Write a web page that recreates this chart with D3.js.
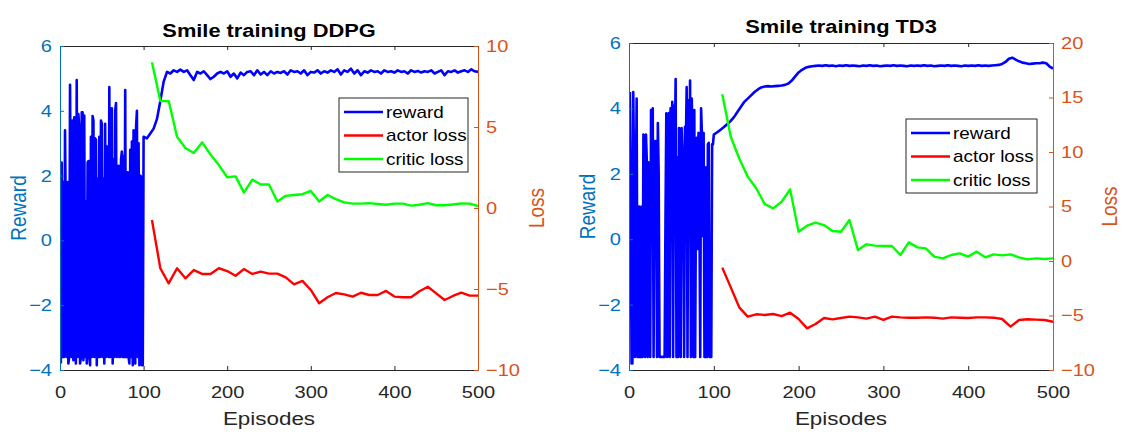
<!DOCTYPE html>
<html>
<head>
<meta charset="utf-8">
<script src="https://cdn.jsdelivr.net/npm/d3@7"></script>
<style>
body { margin: 0; background: #fff; }
svg { display: block; }
text { font-family: "Liberation Sans", Arial, sans-serif; }
</style>
</head>
<body>
<svg id="chart"></svg>
<script>
var width = 1123;
var height = 432;
var sx = 1.18; // the source figure is a bit stretched sideways

// ticks
var xTicks = [0, 100, 200, 300, 400, 500];
var rewardTicks = [-4, -2, 0, 2, 4, 6];
var lossTicksDDPG = [-10, -5, 0, 5, 10];
var lossTicksTD3 = [-10, -5, 0, 5, 10, 15, 20];
var seriesNames = ["reward", "actor loss", "critic loss"];
var seriesColors = ["#0000ff", "#ff0000", "#00ff00"];

// episodes: reward every episode 1..100, then every 4th episode 104..500; losses every 10th 110..500
var earlyEpisodes = d3.range(1, 101);
var lateEpisodes = d3.range(104, 501, 4);
var lossEpisodes = d3.range(110, 501, 10);

// DDPG
var ddpgRewardEarly = [
    -3.8, 2.4, -3.6, 1.8, -3.6, 3.4, 0.5, -3.6, 1.8, -3.8,
    -3.6, 4.8, 0.5, -3.6, 3.7, -3.7, 3.8, 0.8, -3.8, 4.95,
    -3.6, 3.9, 3.5, -3.8, -3.6, 3.95, 3.95, -3.7, 3.85, -3.6,
    1.2, -3.8, 2.4, 2.45, -3.6, -3.85, 3.2, -3.6, 3.84, 3.7,
    -3.6, 3.15, 3.1, -3.85, 1.9, -3.6, 3.2, -3.6, 3.7, 3.6,
    -3.6, 1.9, -3.8, 3.6, -3.6, 2.9, 2.0, -3.6, 4.73, -3.6,
    2.0, 4.08, -3.8, 2.5, -3.6, 4.0, 4.24, -3.6, 1.5, 2.3,
    -3.6, -3.6, 2.49, 2.74, -3.6, 2.6, -3.6, 4.64, -3.6, -3.6,
    2.1, -3.6, -3.8, 2.8, -3.6, 3.05, -3.85, 3.4, 3.3, -3.8,
    3.5, 4.0, -3.6, 3.0, -3.85, 2.0, 1.97, -3.85, -3.85, 3.2
];
var ddpgRewardLate = [
    3.15, 3.3, 3.45, 3.75, 4.3, 4.9, 5.2, 5.15, 5.25, 5.2,
    5.27, 5.2, 5.25, 5.1, 4.95, 5.2, 5.15, 5.22, 5.1, 4.98,
    5.05, 5.15, 5.2, 5.15, 5.22, 5.05, 5.15, 5.0, 5.18, 5.1,
    5.2, 5.22, 5.1, 5.25, 5.12, 5.2, 5.1, 5.22, 5.15, 5.2,
    5.17, 5.22, 5.12, 5.25, 5.2, 5.22, 5.15, 5.25, 5.1, 5.2,
    5.18, 5.25, 5.15, 5.22, 5.18, 5.25, 5.2, 5.28, 5.12, 5.25,
    5.2, 5.3, 5.15, 5.25, 5.1, 5.22, 5.18, 5.25, 5.2, 5.22,
    5.15, 5.25, 5.2, 5.22, 5.18, 5.25, 5.2, 5.22, 5.15, 5.25,
    5.2, 5.23, 5.18, 5.22, 5.2, 5.25, 5.15, 5.2, 5.25, 5.1,
    5.22, 5.2, 5.25, 5.18, 5.22, 5.25, 5.2, 5.28, 5.22, 5.2
];
var ddpgActor = [
    -0.74, -3.72, -4.65, -3.72, -4.34, -3.83, -4.07, -4.07, -3.72, -3.89,
    -4.18, -3.77, -4.07, -3.93, -4.05, -4.05, -4.28, -4.71, -4.5, -5.06,
    -5.88, -5.51, -5.25, -5.33, -5.47, -5.23, -5.37, -5.37, -5.12, -5.47,
    -5.51, -5.51, -5.14, -4.86, -5.27, -5.68, -5.43, -5.23, -5.41, -5.41
];
var ddpgCritic = [
    9.0, 6.6, 6.6, 4.4, 3.7, 3.4, 4.05, 3.3, 2.65, 1.9,
    1.95, 0.95, 1.75, 1.45, 1.45, 0.4, 0.75, 0.8, 0.85, 1.05,
    0.4, 0.8, 0.55, 0.35, 0.27, 0.27, 0.3, 0.25, 0.2, 0.27,
    0.27, 0.15, 0.2, 0.3, 0.17, 0.17, 0.22, 0.28, 0.27, 0.12
];

// TD3
var td3RewardEarly = [
    4.5, 1.9, -3.8, -3.8, 4.5, 2.0, -3.6, 1.2, 4.3, -3.6,
    -3.6, 1.0, -3.6, -3.6, 1.0, -3.6, 3.2, 3.15, -3.6, 3.2,
    2.4, -3.6, 2.35, 2.3, -3.6, 3.95, 1.3, 4.0, -3.6, 3.0,
    0.2, 3.0, -3.6, 3.55, 2.0, -3.6, -3.6, -3.6, -3.6, -3.6,
    -3.6, -3.6, 0.5, 3.85, -3.6, 2.9, 3.86, -3.6, 4.0, 2.5,
    4.2, -3.6, 4.08, 2.6, 4.9, -3.6, 2.5, -3.6, 3.4, 2.4,
    -3.6, 3.4, 2.68, 2.6, -3.6, 3.44, 2.8, 4.65, -3.6, 4.25,
    1.2, 4.85, -3.6, 4.3, 2.7, -3.6, 3.95, -3.6, 1.5, 3.1,
    -0.3, 3.25, 1.0, -3.6, 4.0, 3.2, 0.1, 3.25, -3.6, 2.2,
    -3.6, -3.6, 2.9, 2.95, -3.6, -3.6, -3.6, 2.9, 2.9, 3.2
];
var td3RewardLate = [
    3.27, 3.35, 3.43, 3.52, 3.62, 3.74, 3.9, 4.05, 4.2, 4.3,
    4.4, 4.5, 4.58, 4.64, 4.67, 4.68, 4.67, 4.68, 4.69, 4.7,
    4.72, 4.76, 4.85, 4.98, 5.1, 5.18, 5.24, 5.27, 5.29, 5.3,
    5.31, 5.3, 5.32, 5.3, 5.31, 5.29, 5.31, 5.3, 5.32, 5.3,
    5.31, 5.3, 5.29, 5.31, 5.3, 5.32, 5.3, 5.31, 5.29, 5.3,
    5.31, 5.3, 5.32, 5.3, 5.31, 5.3, 5.29, 5.31, 5.3, 5.31,
    5.3, 5.32, 5.3, 5.31, 5.29, 5.3, 5.31, 5.3, 5.32, 5.3,
    5.31, 5.3, 5.29, 5.31, 5.3, 5.31, 5.3, 5.32, 5.3, 5.31,
    5.3, 5.31, 5.32, 5.33, 5.36, 5.42, 5.52, 5.55, 5.49, 5.44,
    5.4, 5.38, 5.36, 5.37, 5.38, 5.38, 5.4, 5.38, 5.28, 5.22
];
var td3Actor = [
    -0.61, -2.42, -4.25, -5.1, -4.89, -4.95, -4.86, -5.05, -4.74, -5.32,
    -6.18, -5.78, -5.23, -5.35, -5.23, -5.1, -5.17, -5.29, -5.1, -5.41,
    -5.1, -5.17, -5.2, -5.2, -5.17, -5.2, -5.29, -5.17, -5.2, -5.23,
    -5.17, -5.17, -5.2, -5.32, -6.02, -5.41, -5.35, -5.38, -5.41, -5.57
];
var td3Critic = [
    15.3, 11.4, 9.4, 7.74, 6.67, 5.23, 4.83, 5.44, 6.57, 2.69,
    3.24, 3.52, 3.3, 2.75, 2.69, 3.76, 1.0, 1.53, 1.41, 1.38,
    1.38, 0.55, 1.71, 1.25, 1.16, 0.4, 0.24, 0.55, 0.7, 0.4,
    0.86, 0.34, 0.61, 0.52, 0.61, 0.34, 0.15, 0.24, 0.18, 0.24
];

var svg = d3.select("#chart")
    .attr("width", width)
    .attr("height", height)
    .attr("xmlns", "http://www.w3.org/2000/svg");

// put text at (x,y) and squeeze it sideways like the source
function stretchText(sel) {
    sel.each(function () {
        var t = d3.select(this);
        var x = +t.attr("x") || 0;
        var y = +t.attr("y") || 0;
        t.attr("x", 0).attr("y", 0)
            .attr("transform", "translate(" + x + "," + y + ") scale(" + sx + ",1)");
    });
}

function zip(xs, ys) {
    return xs.map(function (e, i) { return [e, ys[i]]; });
}

function drawPanel(p) {
    var g = svg.append("g");
    var x = d3.scaleLinear().domain([0, 500]).range([p.left, p.right]);
    var yR = d3.scaleLinear().domain([-4, 6]).range([p.bottom, p.top]);
    var yL = d3.scaleLinear().domain(p.lossDomain).range([p.bottom, p.top]);

    var clipId = "clip-" + p.id;
    g.append("clipPath").attr("id", clipId)
        .append("rect")
        .attr("x", p.left).attr("y", p.top)
        .attr("width", p.right - p.left).attr("height", p.bottom - p.top);

    var rewardData = zip(earlyEpisodes, p.rewardEarly).concat(zip(lateEpisodes, p.rewardLate));
    var lines = g.append("g").attr("clip-path", "url(#" + clipId + ")");

    lines.append("path")
        .datum(rewardData)
        .attr("fill", "none")
        .attr("stroke", seriesColors[0])
        .attr("stroke-width", 2.6)
        .attr("stroke-linejoin", "round")
        .attr("d", d3.line().x(function (d) { return x(d[0]); }).y(function (d) { return yR(d[1]); }));

    [p.actor, p.critic].forEach(function (vals, k) {
        lines.append("path")
            .datum(zip(lossEpisodes, vals))
            .attr("fill", "none")
            .attr("stroke", seriesColors[k + 1])
            .attr("stroke-width", 2.4)
            .attr("stroke-linejoin", "round")
            .attr("d", d3.line().x(function (d) { return x(d[0]); }).y(function (d) { return yL(d[1]); }));
    });

    // top edge of the box
    var top = g.append("g")
        .attr("transform", "translate(0," + p.top + ")")
        .call(d3.axisTop(x).tickValues(xTicks).tickSize(-4).tickSizeOuter(0).tickFormat(""));
    top.selectAll("path, line").attr("stroke", "#262626");

    var bottom = g.append("g")
        .attr("transform", "translate(0," + p.bottom + ")")
        .call(d3.axisBottom(x).tickValues(xTicks).tickSize(-4).tickSizeOuter(0).tickPadding(16));
    bottom.selectAll("path, line").attr("stroke", "#262626");
    bottom.selectAll("text").attr("fill", "#262626").style("font-size", "17px").call(stretchText);

    var left = g.append("g")
        .attr("transform", "translate(" + p.left + ",0)")
        .call(d3.axisLeft(yR).tickValues(rewardTicks).tickSize(-4).tickSizeOuter(0).tickPadding(8));
    left.selectAll("path, line").attr("stroke", "#0072bd");
    left.selectAll("text").attr("fill", "#0072bd").style("font-size", "17px").call(stretchText);

    var right = g.append("g")
        .attr("transform", "translate(" + p.right + ",0)")
        .call(d3.axisRight(yL).tickValues(p.lossTicks).tickSize(-4).tickSizeOuter(0).tickPadding(8));
    right.selectAll("path, line").attr("stroke", "#d95319");
    right.selectAll("text").attr("fill", "#d95319").style("font-size", "17px").call(stretchText);

    g.selectAll(".domain").attr("stroke-width", 1);

    // title and axis labels
    g.append("text")
        .attr("transform", "translate(" + (p.left + p.right) / 2 + "," + p.titleY + ") scale(" + sx + ",1)")
        .attr("text-anchor", "middle")
        .style("font-size", "18.5px")
        .style("font-weight", "bold")
        .attr("fill", "#000")
        .text(p.title);

    g.append("text")
        .attr("transform", "translate(" + (p.left + p.right) / 2 + ",425) scale(" + sx + ",1)")
        .attr("text-anchor", "middle")
        .style("font-size", "19px")
        .attr("fill", "#262626")
        .text("Episodes");

    g.append("text")
        .attr("transform", "translate(" + p.rewardLabelX + "," + (p.top + p.bottom) / 2 + ") scale(" + sx + ",1) rotate(-90)")
        .attr("text-anchor", "middle")
        .attr("dy", "0.35em")
        .style("font-size", "19px")
        .attr("fill", "#0072bd")
        .text("Reward");

    g.append("text")
        .attr("transform", "translate(" + p.lossLabelX + "," + (p.top + p.bottom) / 2 + ") scale(" + sx + ",1) rotate(-90)")
        .attr("text-anchor", "middle")
        .attr("dy", "0.35em")
        .style("font-size", "19px")
        .attr("fill", "#d95319")
        .text("Loss");

    // legend
    var lg = g.append("g").attr("transform", "translate(" + p.legendX + "," + p.legendY + ")");
    lg.append("rect")
        .attr("width", p.legendW).attr("height", 74)
        .attr("fill", "#fff")
        .attr("stroke", "#262626")
        .attr("stroke-width", 1);
    seriesNames.forEach(function (name, i) {
        var yy = 14 + i * 23.5;
        lg.append("line")
            .attr("x1", 5).attr("x2", 44)
            .attr("y1", yy).attr("y2", yy)
            .attr("stroke", seriesColors[i])
            .attr("stroke-width", 2.4);
        lg.append("text")
            .attr("transform", "translate(47," + yy + ") scale(" + sx + ",1)")
            .attr("dy", "0.35em")
            .style("font-size", "16px")
            .attr("fill", "#000")
            .text(name);
    });
}

drawPanel({
    id: "ddpg", title: "Smile training DDPG",
    left: 60, right: 478, top: 46, bottom: 370, titleY: 37,
    rewardEarly: ddpgRewardEarly, rewardLate: ddpgRewardLate,
    actor: ddpgActor, critic: ddpgCritic,
    lossDomain: [-10, 10], lossTicks: lossTicksDDPG,
    rewardLabelX: 18, lossLabelX: 536,
    legendX: 339, legendY: 98, legendW: 129
});

drawPanel({
    id: "td3", title: "Smile training TD3",
    left: 629, right: 1053, top: 43, bottom: 370, titleY: 33,
    rewardEarly: td3RewardEarly, rewardLate: td3RewardLate,
    actor: td3Actor, critic: td3Critic,
    lossDomain: [-10, 20], lossTicks: lossTicksTD3,
    rewardLabelX: 587, lossLabelX: 1109,
    legendX: 906, legendY: 119, legendW: 131
});
</script>
</body>
</html>
